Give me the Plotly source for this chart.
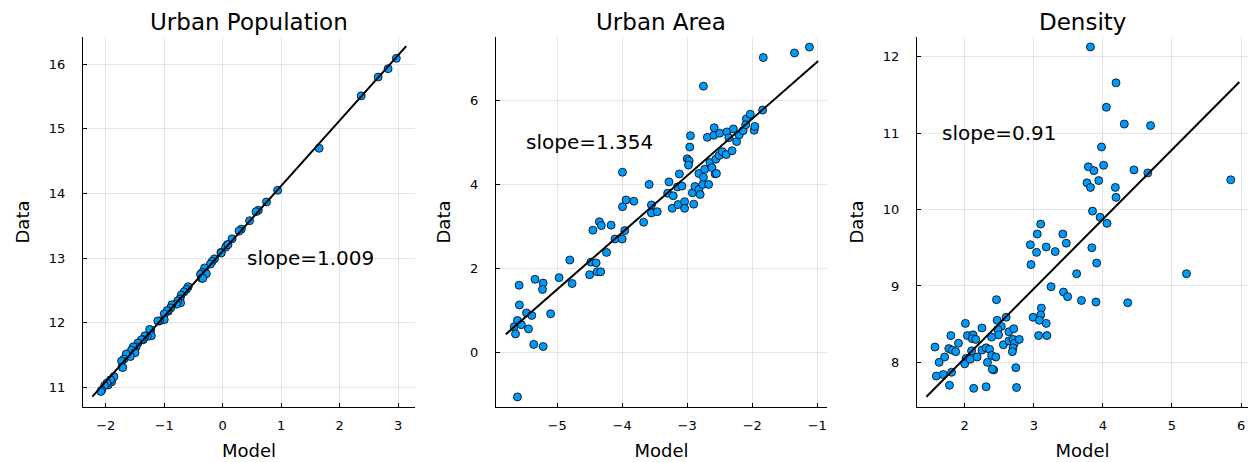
import plotly.graph_objects as go

# ---------------- data ----------------
titles = ["Urban Population", "Urban Area", "Density"]

pop_model = [2.97, 2.83, 2.66, 2.37, 1.65, 0.94, 0.75, 0.61, 0.57, 0.46, 0.32, 0.28, 0.16, 0.08, 0.05,
             -0.03, 0.09, -0.025, -0.14, -0.18, -0.21, -0.31, -0.35, -0.38, -0.36, -0.28, -0.34, -0.59,
             -0.62, -0.66, -0.71, -0.73, -0.72, -0.77, -0.79, -0.87, -0.89, -0.93, -0.95, -1.00, -1.00,
             -1.08, -1.11, -1.23, -1.25, -1.22, -1.29, -1.33, -1.36, -1.39, -1.45, -1.48, -1.52, -1.53,
             -1.56, -1.50, -1.58, -1.65, -1.69, -1.73, -1.72, -1.71, -1.86, -1.90, -1.92, -1.96, -1.98,
             -2.02, -2.07, -2.085]
pop_data = [16.09, 15.93, 15.80, 15.51, 14.70, 14.05, 13.87, 13.74, 13.72, 13.58, 13.45, 13.42, 13.30, 13.21,
            13.17, 13.09, 13.21, 13.08, 12.99, 12.95, 12.91, 12.85, 12.78, 12.75, 12.69, 12.76, 12.69, 12.56,
            12.52, 12.48, 12.43, 12.37, 12.31, 12.34, 12.29, 12.28, 12.23, 12.18, 12.19, 12.14, 12.05,
            12.03, 12.03, 11.89, 11.90, 11.80, 11.79, 11.80, 11.74, 11.74, 11.69, 11.63, 11.61, 11.63,
            11.58, 11.54, 11.48, 11.52, 11.44, 11.41, 11.32, 11.31, 11.17, 11.09, 11.12, 11.04, 11.07,
            11.03, 10.96, 10.94]

area_model = [-5.61, -5.585, -5.58, -5.61, -5.66, -5.64, -5.55, -5.47, -5.39, -5.44, -5.36, -5.215, -5.34,
              -5.215, -5.225, -5.10, -4.97, -4.805, -4.77, -4.50, -4.48, -4.40, -4.45, -4.385, -4.33, -4.35,
              -4.32, -4.24, -4.17, -4.11, -4.00, -3.96, -3.995, -3.995, -3.94, -3.82, -3.67, -3.585, -3.55,
              -3.55, -3.46, -3.30, -3.28, -3.215, -3.23, -3.14, -3.15, -3.12, -3.08, -3.04, -3.04, -3.00,
              -2.97, -2.98, -2.96, -2.95, -2.92, -2.90, -2.88, -2.82, -2.82, -2.80, -2.76, -2.75, -2.75,
              -2.73, -2.69, -2.67, -2.65, -2.62, -2.59, -2.585, -2.57, -2.56, -2.55, -2.51, -2.50, -2.46,
              -2.40, -2.39, -2.36, -2.31, -2.29, -2.24, -2.20, -2.14, -2.09, -2.10, -2.03, -1.97, -1.96,
              -1.84, -1.83, -1.35, -1.12]
area_data = [-1.06, 1.60, 1.13, 0.76, 0.61, 0.44, 0.66, 0.94, 0.88, 0.56, 0.19, 0.14, 1.74, 1.65, 1.50,
             0.92, 1.78, 2.20, 1.64, 1.85, 2.15, 2.13, 2.91, 1.92, 1.92, 3.11, 3.02, 2.38, 3.03, 2.70, 2.70,
             2.90, 3.47, 4.29, 3.63, 3.60, 3.10, 4.00, 3.51, 3.32, 3.35, 3.79, 4.06, 3.73, 3.43, 3.52, 3.94,
             4.25, 3.96, 3.59, 3.43, 4.61, 4.56, 4.46, 4.89, 5.16, 3.80, 3.53, 3.95, 3.88, 4.26, 3.76, 4.00,
             6.34, 4.17, 4.36, 5.12, 4.00, 4.52, 4.40, 5.17, 5.35, 4.25, 4.60, 4.26, 4.69, 5.22, 4.78, 4.71,
             5.25, 5.11, 4.80, 5.32, 5.02, 5.18, 5.28, 5.56, 5.42, 5.67, 5.29, 5.38, 5.77, 7.02, 7.13, 7.27]

dens_model = [3.82, 4.19, 4.05, 4.31, 4.69, 3.98, 3.79, 3.87, 4.01, 4.45, 4.65, 5.85, 3.94, 3.77, 3.82, 4.18,
              4.19, 3.85, 3.96, 4.06, 3.10, 3.05, 3.42, 3.47, 2.95, 3.18, 3.31, 3.04, 3.84, 2.96, 3.91, 3.62,
              5.21, 3.25, 3.43, 3.49, 3.69, 3.90, 4.36, 2.46, 3.11, 3.10, 2.99, 3.08, 3.18, 3.07, 3.19, 2.60,
              2.47, 2.53, 2.48, 2.49, 2.39, 2.25, 2.01, 2.56, 2.64, 2.71, 2.64, 2.70, 2.72, 2.70, 2.69, 2.79,
              2.74, 2.75, 2.04, 2.12, 2.11, 2.16, 1.80, 1.91, 1.77, 1.82, 1.87, 1.57, 1.71, 1.63, 1.59, 1.69,
              1.81, 1.78, 2.02, 2.00, 2.10, 2.08, 2.18, 2.25, 2.31, 2.36, 2.33, 2.39, 2.45, 2.42, 2.40, 2.13,
              2.31]
dens_data = [12.13, 11.66, 11.34, 11.12, 11.10, 10.82, 10.56, 10.51, 10.58, 10.52, 10.48, 10.39, 10.38,
             10.35, 10.29, 10.29, 10.16, 9.98, 9.90, 9.82, 9.81, 9.68, 9.68, 9.56, 9.54, 9.51, 9.45, 9.44,
             9.50, 9.28, 9.30, 9.16, 9.16, 8.99, 8.92, 8.86, 8.81, 8.79, 8.78, 8.82, 8.71, 8.62, 8.59, 8.55,
             8.51, 8.35, 8.35, 8.59, 8.55, 8.47, 8.43, 8.36, 8.33, 8.45, 8.51, 8.23, 8.40, 8.44, 8.28, 8.30,
             8.25, 8.19, 8.14, 8.30, 7.93, 7.67, 8.35, 8.36, 8.31, 8.30, 8.35, 8.25, 8.18, 8.16, 8.14, 8.20,
             8.07, 8.00, 7.82, 7.84, 7.87, 7.70, 8.05, 7.98, 8.15, 8.04, 8.07, 8.16, 8.19, 8.17, 8.00, 8.09,
             8.07, 7.90, 7.91, 7.66, 7.68]

slopes = [1.009, 1.354, 0.91]
intercepts = [13.11, 8.27, 6.234]
fit_x_ranges = [[-2.23, 3.14], [-5.79, -0.985], [1.446, 5.975]]
slope_label_pos = [[1.5, 13.0], [-4.5, 5.0], [2.5, 11.0]]

x_ranges = [[-2.39, 3.29], [-5.94, -0.85], [1.31, 6.10]]
y_ranges = [[10.70, 16.42], [-1.30, 7.51], [7.415, 12.26]]
x_ticks = [[-2, -1, 0, 1, 2, 3], [-5, -4, -3, -2, -1], [2, 3, 4, 5, 6]]
y_ticks = [[11, 12, 13, 14, 15, 16], [0, 2, 4, 6], [8, 9, 10, 11, 12]]

# ---------------- figure ----------------
W, H = 1248, 462
px_left = [83, 496, 917]
px_right = [415, 827, 1248]
px_top, px_bottom = 37, 407

FONT = "DejaVu Sans"
BLUE = "#009AFA"

models = [pop_model, area_model, dens_model]
datas = [pop_data, area_data, dens_data]

fig = go.Figure()
annotations = []
layout = dict(
    width=W, height=H,
    margin=dict(l=0, r=0, t=0, b=0),
    paper_bgcolor="white", plot_bgcolor="white",
    showlegend=False,
    font=dict(family=FONT, color="black"),
)

for i in range(3):
    xa = "x" if i == 0 else f"x{i+1}"
    ya = "y" if i == 0 else f"y{i+1}"
    fig.add_trace(go.Scatter(
        x=models[i], y=datas[i], mode="markers", xaxis=xa, yaxis=ya,
        marker=dict(color=BLUE, size=8, line=dict(color="black", width=0.8)),
        cliponaxis=False,
    ))
    fx = fit_x_ranges[i]
    fy = [intercepts[i] + slopes[i] * v for v in fx]
    fig.add_trace(go.Scatter(
        x=fx, y=fy, mode="lines", xaxis=xa, yaxis=ya,
        line=dict(color="black", width=2),
    ))
    d0 = px_left[i] / W
    d1 = px_right[i] / W
    common = dict(
        showgrid=True, gridcolor="rgba(0,0,0,0.1)", gridwidth=1,
        showline=True, linecolor="black", linewidth=1,
        ticks="inside", ticklen=4, tickcolor="black", tickwidth=1,
        zeroline=False, tickfont=dict(family=FONT, size=13, color="black"),
        title_font=dict(family=FONT, size=18, color="black"),
        mirror=False,
    )
    layout["xaxis" if i == 0 else f"xaxis{i+1}"] = dict(
        common, domain=[d0, min(d1, 1.0)], range=x_ranges[i], tickvals=x_ticks[i],
        anchor=ya, title=dict(text="Model", standoff=12), ticklabelstandoff=6,
    )
    layout["yaxis" if i == 0 else f"yaxis{i+1}"] = dict(
        common, domain=[(H - px_bottom) / H, (H - px_top) / H], range=y_ranges[i],
        tickvals=y_ticks[i], anchor=xa, title=dict(text="Data", standoff=14),
        ticklabelstandoff=14,
    )
    annotations.append(dict(
        x=(px_left[i] + px_right[i]) / 2 / W, y=(H - 22) / H, xref="paper", yref="paper",
        text=titles[i], showarrow=False, xanchor="center", yanchor="middle",
        font=dict(family=FONT, size=23, color="black"),
    ))
    annotations.append(dict(
        x=slope_label_pos[i][0], y=slope_label_pos[i][1], xref=xa, yref=ya,
        text=f"slope={slopes[i]}", showarrow=False, xanchor="center", yanchor="middle",
        font=dict(family=FONT, size=20, color="black"),
    ))

layout["annotations"] = annotations
fig.update_layout(**layout)
fig.write_html("out.html", config={"displayModeBar": False})

# remove the browser's default page margin so the figure sits at the window origin
with open("out.html", "r", encoding="utf-8") as f:
    html = f.read()
html = html.replace("<body>", '<body style="margin:0;padding:0;">', 1)
with open("out.html", "w", encoding="utf-8") as f:
    f.write(html)
